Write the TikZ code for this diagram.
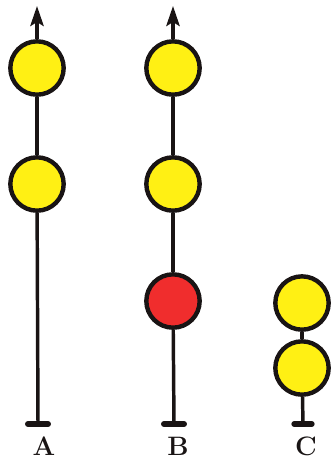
\documentclass[tikz,border=0pt]{standalone}
\usetikzlibrary{arrows.meta}
\definecolor{dotyellow}{RGB}{255,240,20}
\definecolor{dotred}{RGB}{240,45,45}
\definecolor{ink}{RGB}{25,20,20}
\begin{document}
\begin{tikzpicture}[x=0.75pt,y=-0.75pt,
 dot/.style={circle,draw=ink,line width=3.3pt,minimum size=40pt,inner sep=0pt,fill=dotyellow},
 reddot/.style={dot,fill=dotred},
 stem/.style={draw=ink,line width=2.6pt},
 arrowstem/.style={stem,-{Stealth[length=15pt,width=10pt,inset=3pt]}},
 foot/.style={draw=ink,line width=4.5pt,line cap=round},
 lab/.style={font=\fontsize{20}{20}\selectfont\bfseries,text=ink,inner sep=0pt,anchor=base}]
\useasboundingbox (0,0) rectangle (332,462);
% column A
\coordinate (tA) at (37,6);
\node[dot] (a1) at (37,68) {};
\node[dot] (a2) at (37,184) {};
\coordinate (fA) at (38,424);
\draw[arrowstem] (a1) -- (tA);
\draw[stem] (a1) -- (a2);
\draw[stem] (a2) -- (fA);
\draw[foot] ([xshift=-7.5pt]fA) -- ([xshift=7.5pt]fA);
\node[lab] (lA) at (44,455) {A};
% column B
\coordinate (tB) at (173,6);
\node[dot] (b1) at (173,68) {};
\node[dot] (b2) at (173,184) {};
\node[reddot] (b3) at (173,301) {};
\coordinate (fB) at (174,424);
\draw[arrowstem] (b1) -- (tB);
\draw[stem] (b1) -- (b2);
\draw[stem] (b2) -- (b3);
\draw[stem] (b3) -- (fB);
\draw[foot] ([xshift=-7.5pt]fB) -- ([xshift=7.5pt]fB);
\node[lab] (lB) at (178,455) {B};
% column C
\node[dot] (c1) at (302,303) {};
\node[dot] (c2) at (302,368) {};
\coordinate (fC) at (303,424);
\draw[stem] (c1) -- (c2);
\draw[stem] (c2) -- (fC);
\draw[foot] ([xshift=-6.5pt]fC) -- ([xshift=6.5pt]fC);
\node[lab] (lC) at (306,455) {C};
\end{tikzpicture}
\end{document}
